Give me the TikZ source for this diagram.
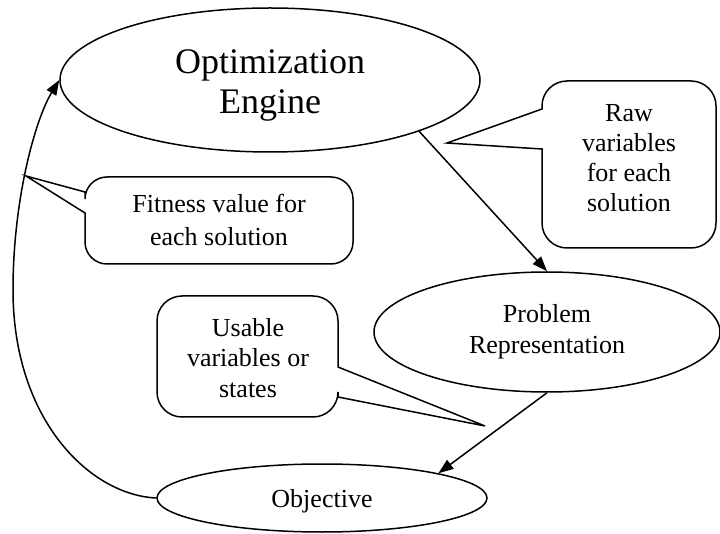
\documentclass[tikz,border=0pt]{standalone}
\usepackage{fontspec}
\setmainfont{Liberation Serif}
\usetikzlibrary{shapes.geometric,arrows.meta}
\begin{document}
\begin{tikzpicture}[x=1pt,y=1pt,
  line width=1.5pt,
  ell/.style={ellipse,draw,fill=white,inner sep=0pt,align=center},
  txt/.style={align=center,inner sep=0pt},
  arr/.style={-{Triangle[length=15pt,width=11pt]}},
  body/.style={font=\fontsize{26}{31}\selectfont}
]
\useasboundingbox (0,0) rectangle (720,533);

% ellipses
\node[ell,minimum width=420,minimum height=144] (opt) at (270,453) {};
\node[txt,font=\fontsize{36}{40}\selectfont] (optt) at (270,448) {Optimization\\Engine};
\node[ell,minimum width=346,minimum height=120,body] (prob) at (547,201) {Problem\\Representation};
\node[ell,minimum width=330,minimum height=68] (obj) at (322,35) {};
\node[txt,body] (objt) at (322,32) {Objective};

% callout: Raw variables
\draw[fill=white] (542,424) -- (542,427) arc[start angle=180,end angle=90,radius=25]
  -- (691,452) arc[start angle=90,end angle=0,radius=25]
  -- (716,310) arc[start angle=0,end angle=-90,radius=25]
  -- (567,285) arc[start angle=270,end angle=180,radius=25]
  -- (542,384) -- (447,390) -- cycle;
\node[txt,font=\fontsize{26}{30}\selectfont] (raw) at (629,375) {Raw\\variables\\for each\\solution};

% callout: Fitness value
\draw[fill=white] (85,341) -- (85,334) arc[start angle=180,end angle=90,radius=22]
  -- (331,356) arc[start angle=90,end angle=0,radius=22]
  -- (353,291) arc[start angle=0,end angle=-90,radius=22]
  -- (107,269) arc[start angle=270,end angle=180,radius=22]
  -- (85,320) -- (26,357) -- cycle;
\node[txt,font=\fontsize{26}{33}\selectfont] (fit) at (219,313) {Fitness value for\\each solution};

% callout: Usable variables
\draw[fill=white] (338,166) -- (338,212) arc[start angle=0,end angle=90,radius=25]
  -- (182,237) arc[start angle=90,end angle=180,radius=25]
  -- (157,141) arc[start angle=180,end angle=270,radius=25]
  -- (313,116) arc[start angle=270,end angle=360,radius=25]
  -- (338,136) -- (485,107) -- cycle;
\node[txt,font=\fontsize{26}{30.5}\selectfont] (use) at (248,175) {Usable\\variables or\\states};

% connectors
\draw[arr] (opt.-19) -- (prob.north);
\draw[arr] (prob.south) -- (obj.12);
\draw[arr] (obj.west) .. controls (90,38) and (13,113) .. (13,243)
  .. controls (13,333) and (35,413) .. (opt.west);
\end{tikzpicture}
\end{document}
